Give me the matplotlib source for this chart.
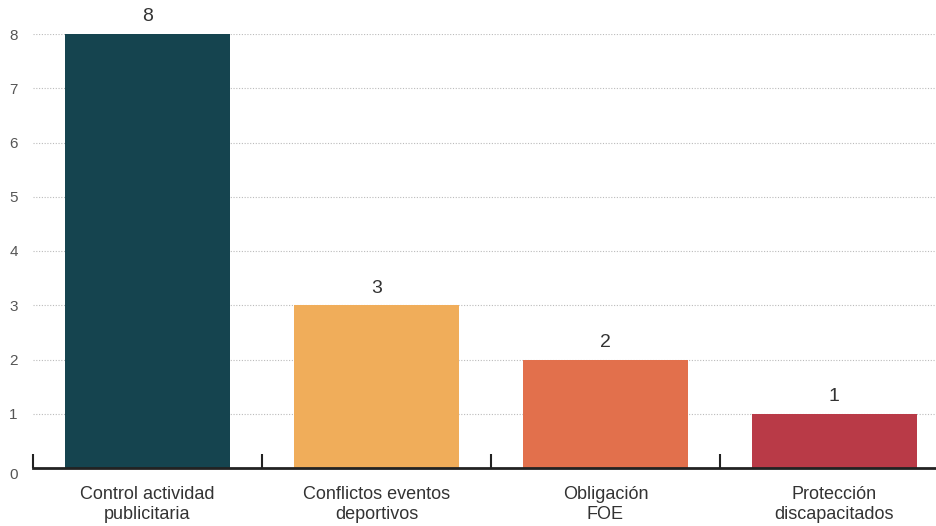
import matplotlib.pyplot as plt

# Datos
categorias = ["Control actividad\npublicitaria", "Conflictos eventos\ndeportivos",
              "Obligación\nFOE", "Protección\ndiscapacitados"]
valores = [8, 3, 2, 1]
colores = ["#15444f", "#f0ad5a", "#e2704c", "#b93a47"]
ticks_y = [0, 1, 2, 3, 4, 5, 6, 7, 8]

plt.rcParams["font.family"] = ["Liberation Sans", "DejaVu Sans"]

fig = plt.figure(figsize=(9.37, 5.26), dpi=100)
ax = fig.add_axes([33 / 937, 58 / 526, 904 / 937, (468 - 34) / 526])

x = list(range(len(categorias)))
ax.bar(x, valores, width=0.72, color=colores, zorder=2)

for xi, v in zip(x, valores):
    ax.text(xi, v + 0.16, str(v), ha="center", va="bottom",
            fontsize=14, color="#333333")

# Cuadrícula punteada
for t in ticks_y[1:]:
    ax.axhline(t, color="#bbbbbb", lw=0.8, ls=(0, (1, 1.5)), zorder=1)

ax.set_yticks(ticks_y)
ax.set_yticklabels([str(t) for t in ticks_y])
ax.tick_params(axis="y", length=0, pad=14, labelsize=11, labelcolor="#555555")
for lbl in ax.get_yticklabels():
    lbl.set_horizontalalignment("center")
ax.get_yticklabels()[0].set_va("top")

# Marcas entre categorías
ax.set_xticks([i - 0.5 for i in range(len(categorias) + 1)])
ax.set_xticklabels([])
ax.tick_params(axis="x", direction="in", length=10, width=1.5, color="#222222")
for xi, c in zip(x, categorias):
    ax.text(xi, -0.33, c, ha="center", va="top", fontsize=13,
            color="#333333", linespacing=1.25)

ax.set_xlim(-0.5, 3.448)
ax.set_ylim(0, 8)

for s in ["top", "right", "left"]:
    ax.spines[s].set_visible(False)
ax.spines["bottom"].set_linewidth(2)
ax.spines["bottom"].set_color("#222222")

fig.savefig("out.png", dpi=100)
